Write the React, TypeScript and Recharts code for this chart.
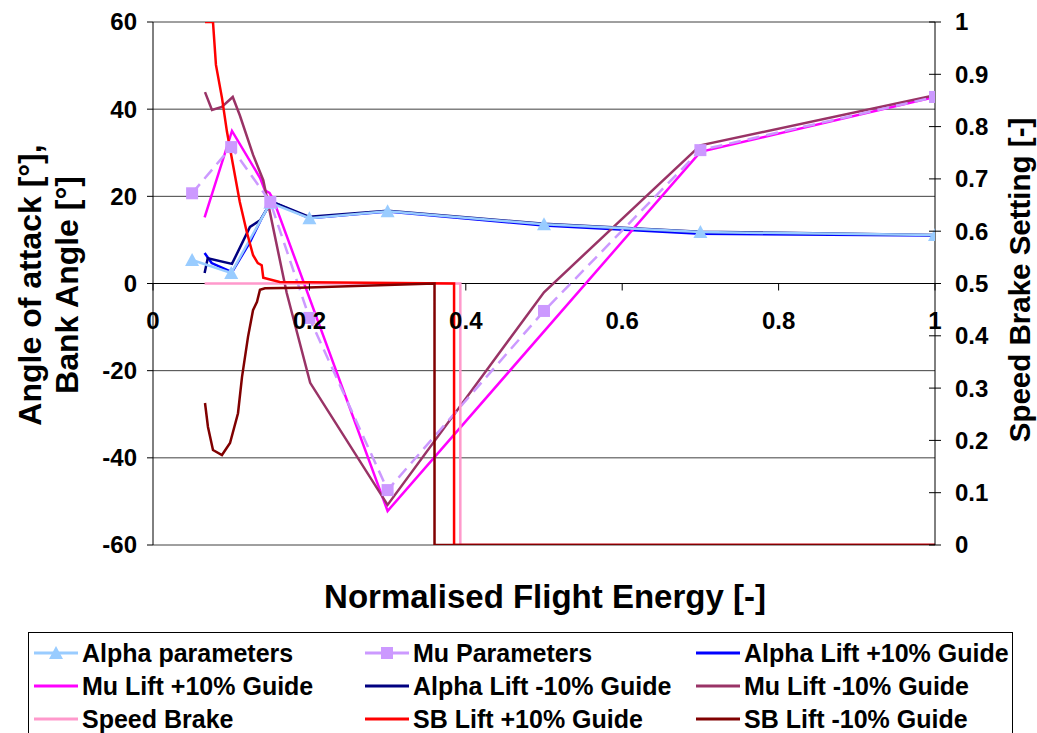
import React from 'react'
import { ComposedChart, Line, XAxis, YAxis, CartesianGrid, ReferenceLine, Label } from 'recharts'

// axis ticks
const xTicks = [0, 0.2, 0.4, 0.6, 0.8, 1]
const leftTicks = [-60, -40, -20, 0, 20, 40, 60]
const rightTicks = [0, 0.1, 0.2, 0.3, 0.4, 0.5, 0.6, 0.7, 0.8, 0.9, 1]

// parameter points (left axis, degrees)
const paramX = [0.05, 0.1, 0.15, 0.2, 0.3, 0.5, 0.7, 1]
const alphaParams = [5.4, 2.4, 18.5, 15, 16.6, 13.6, 11.8, 11.1]
const muParams = [20.7, 31.3, 18.7, -7.9, -47.4, -6.3, 30.6, 42.8]

// guidance runs (left axis, degrees)
const alphaPlusX = [0.066, 0.075, 0.101, 0.124, 0.139, 0.147, 0.153, 0.2, 0.3, 0.5, 0.7, 1]
const alphaPlusY = [7, 4.7, 2.6, 9.5, 15, 17.5, 18.7, 15, 16.5, 13.3, 11.4, 11]
const alphaMinusX = [0.066, 0.07, 0.101, 0.124, 0.137, 0.147, 0.153, 0.2, 0.3, 0.5, 0.7, 1]
const alphaMinusY = [2.4, 5.8, 4.5, 13, 14.5, 17.5, 18.7, 15.3, 16.7, 13.7, 11.9, 11.1]
const muPlusX = [0.066, 0.101, 0.137, 0.143, 0.149, 0.154, 0.3, 0.7, 1]
const muPlusY = [15.2, 35, 24.2, 21.4, 20.8, 19.2, -52.2, 30.2, 42.8]
const muMinusX = [0.0665, 0.0754, 0.088, 0.102, 0.111, 0.128, 0.141, 0.171, 0.201, 0.3, 0.5, 0.7, 1]
const muMinusY = [43.9, 39.8, 40.5, 42.8, 38.6, 29.5, 23.7, -2.2, -22.8, -50.8, -2, 31.7, 43.2]

// speed brake settings (right axis)
const sbX = [0.066, 0.393, 0.393, 1]
const sbY = [0.5, 0.5, 0, 0]
const sbPlusX = [0.0665, 0.0767, 0.0805, 0.0882, 0.0946, 0.1023, 0.111, 0.12, 0.128, 0.134, 0.139, 0.141, 0.162, 0.385, 0.385, 1]
const sbPlusY = [1, 1, 0.918, 0.855, 0.79, 0.727, 0.656, 0.598, 0.554, 0.539, 0.535, 0.511, 0.503, 0.5, 0, 0]
const sbMinusX = [0.0665, 0.0703, 0.0767, 0.0882, 0.0985, 0.1087, 0.1138, 0.1215, 0.1279, 0.133, 0.1368, 0.1432, 0.188, 0.36, 0.36, 1]
const sbMinusY = [0.2715, 0.2256, 0.1816, 0.172, 0.195, 0.252, 0.321, 0.398, 0.449, 0.465, 0.488, 0.491, 0.492, 0.5, 0, 0]

const pts = (xs: number[], ys: number[]) => xs.map((x, i) => ({ x, y: ys[i] }))

const FONT = '"Liberation Sans", Arial, sans-serif'
const TOP = 22
const BOTTOM = 545
const ZERO_Y = (TOP + BOTTOM) / 2

const legendItems = [
  { name: 'Alpha parameters', color: '#99CCFF', marker: 'tri' },
  { name: 'Mu Parameters', color: '#CC99FF', marker: 'sq' },
  { name: 'Alpha Lift +10% Guide', color: '#0000FF' },
  { name: 'Mu Lift +10% Guide', color: '#FF00FF' },
  { name: 'Alpha Lift -10% Guide', color: '#000080' },
  { name: 'Mu Lift -10% Guide', color: '#993366' },
  { name: 'Speed Brake', color: '#FF99CC' },
  { name: 'SB Lift +10% Guide', color: '#FF0000' },
  { name: 'SB Lift -10% Guide', color: '#800000' },
]

const XTick = (props: any) => {
  const { x, payload } = props
  return (
    <g>
      <line x1={x} x2={x} y1={ZERO_Y} y2={ZERO_Y + 7} stroke="#000" />
      <text x={x} y={329} textAnchor="middle" fontFamily={FONT} fontWeight="bold" fontSize={24} fill="#000">
        {String(payload.value)}
      </text>
    </g>
  )
}

const LeftTick = (props: any) => {
  const { y, payload } = props
  return (
    <g>
      <line x1={147} x2={153} y1={y} y2={y} stroke="#000" />
      <text x={137} y={y} dy="0.35em" textAnchor="end" fontFamily={FONT} fontWeight="bold" fontSize={24} fill="#000">
        {String(payload.value)}
      </text>
    </g>
  )
}

const RightTick = (props: any) => {
  const { y, payload } = props
  return (
    <g>
      <line x1={929} x2={941} y1={y} y2={y} stroke="#000" />
      <text x={955} y={y} dy="0.35em" textAnchor="start" fontFamily={FONT} fontWeight="bold" fontSize={24} fill="#000">
        {String(Math.round(payload.value * 10) / 10)}
      </text>
    </g>
  )
}

const Triangle = (p: any) => {
  if (p.cx == null || p.cy == null) return <g key={p.index} />
  return (
    <path
      key={p.index}
      d={`M${p.cx},${p.cy - 7} L${p.cx + 7},${p.cy + 6} L${p.cx - 7},${p.cy + 6} Z`}
      fill="#99CCFF"
    />
  )
}

const Square = (p: any) => {
  if (p.cx == null || p.cy == null) return <g key={p.index} />
  return <rect key={p.index} x={p.cx - 6} y={p.cy - 6} width={12} height={12} fill="#CC99FF" />
}

const LegendBox = () => {
  const colX = [33, 364, 695]
  const rowY = [652, 685, 718]
  return (
    <div
      style={{
        position: 'absolute',
        left: 28,
        top: 632,
        width: 985,
        height: 130,
        border: '1px solid #000',
        boxSizing: 'border-box',
      }}
    >
      {legendItems.map((it, i) => {
        const cx = colX[i % 3] - 28
        const cy = rowY[Math.floor(i / 3)] - 632
        return (
          <div key={it.name} style={{ position: 'absolute', left: cx, top: cy - 16, height: 32, display: 'flex', alignItems: 'center' }}>
            <svg width={44} height={32} style={{ display: 'block' }}>
              <line x1={0} x2={44} y1={16} y2={16} stroke={it.color} strokeWidth={3} />
              {it.marker === 'tri' && <path d="M22,9 L29,22 L15,22 Z" fill={it.color} />}
              {it.marker === 'sq' && <rect x={16} y={10} width={12} height={12} fill={it.color} />}
            </svg>
            <span
              style={{
                marginLeft: 4,
                fontFamily: FONT,
                fontWeight: 'bold',
                fontSize: 25,
                color: '#000',
                whiteSpace: 'nowrap',
              }}
            >
              {it.name}
            </span>
          </div>
        )
      })}
    </div>
  )
}

export default function App() {
  const lw = 2.5
  return (
    <div style={{ position: 'absolute', left: 0, top: 0, width: 1037, height: 733, background: '#fff', overflow: 'hidden' }}>
      <ComposedChart width={1037} height={733} margin={{ top: TOP, right: 0, bottom: 0, left: 0 }}>
        <CartesianGrid yAxisId="l" vertical={false} stroke="#404040" strokeWidth={1} />
        <XAxis
          type="number"
          dataKey="x"
          domain={[0, 1]}
          ticks={xTicks}
          allowDataOverflow
          axisLine={false}
          tickLine={false}
          tick={<XTick />}
          height={188}
        >
          <Label
            content={() => (
              <text x={545} y={608} textAnchor="middle" fontFamily={FONT} fontWeight="bold" fontSize={33} fill="#000">
                Normalised Flight Energy [-]
              </text>
            )}
          />
        </XAxis>
        <YAxis
          yAxisId="l"
          type="number"
          domain={[-60, 60]}
          ticks={leftTicks}
          allowDataOverflow
          width={153}
          axisLine={{ stroke: '#000' }}
          tickLine={false}
          tick={<LeftTick />}
        >
          <Label
            content={() => (
              <text
                transform={`translate(0, 285) rotate(-90)`}
                textAnchor="middle"
                fontFamily={FONT}
                fontWeight="bold"
                fontSize={32}
                fill="#000"
              >
                <tspan x={0} y={41}>Angle of attack [°],</tspan>
                <tspan x={0} y={78}>Bank Angle [°]</tspan>
              </text>
            )}
          />
        </YAxis>
        <YAxis
          yAxisId="r"
          orientation="right"
          type="number"
          domain={[0, 1]}
          ticks={rightTicks}
          allowDataOverflow
          width={102}
          axisLine={{ stroke: '#000' }}
          tickLine={false}
          tick={<RightTick />}
        >
          <Label
            content={() => (
              <text
                transform={`translate(1030, 280) rotate(-90)`}
                textAnchor="middle"
                fontFamily={FONT}
                fontWeight="bold"
                fontSize={29.5}
                fill="#000"
              >
                Speed Brake Setting [-]
              </text>
            )}
          />
        </YAxis>
        <ReferenceLine yAxisId="l" y={0} stroke="#000" strokeWidth={1} />

        <Line yAxisId="l" data={pts(alphaPlusX, alphaPlusY)} dataKey="y" name="Alpha Lift +10% Guide" type="linear" stroke="#0000FF" strokeWidth={lw} dot={false} activeDot={false} isAnimationActive={false} />
        <Line yAxisId="l" data={pts(alphaMinusX, alphaMinusY)} dataKey="y" name="Alpha Lift -10% Guide" type="linear" stroke="#000080" strokeWidth={lw} dot={false} activeDot={false} isAnimationActive={false} />
        <Line yAxisId="l" data={pts(muPlusX, muPlusY)} dataKey="y" name="Mu Lift +10% Guide" type="linear" stroke="#FF00FF" strokeWidth={lw} dot={false} activeDot={false} isAnimationActive={false} />
        <Line yAxisId="l" data={pts(muMinusX, muMinusY)} dataKey="y" name="Mu Lift -10% Guide" type="linear" stroke="#993366" strokeWidth={lw} dot={false} activeDot={false} isAnimationActive={false} />
        <Line yAxisId="l" data={pts(paramX, alphaParams)} dataKey="y" name="Alpha parameters" type="linear" stroke="#99CCFF" strokeWidth={lw} dot={Triangle} activeDot={false} isAnimationActive={false} />
        <Line yAxisId="l" data={pts(paramX, muParams)} dataKey="y" name="Mu Parameters" type="linear" stroke="#CC99FF" strokeWidth={lw} strokeDasharray="12 7" dot={Square} activeDot={false} isAnimationActive={false} />
        <Line yAxisId="r" data={pts(sbX, sbY)} dataKey="y" name="Speed Brake" type="linear" stroke="#FF99CC" strokeWidth={lw} dot={false} activeDot={false} isAnimationActive={false} />
        <Line yAxisId="r" data={pts(sbPlusX, sbPlusY)} dataKey="y" name="SB Lift +10% Guide" type="linear" stroke="#FF0000" strokeWidth={lw} dot={false} activeDot={false} isAnimationActive={false} />
        <Line yAxisId="r" data={pts(sbMinusX, sbMinusY)} dataKey="y" name="SB Lift -10% Guide" type="linear" stroke="#800000" strokeWidth={lw} dot={false} activeDot={false} isAnimationActive={false} />
      </ComposedChart>
      <LegendBox />
    </div>
  )
}
